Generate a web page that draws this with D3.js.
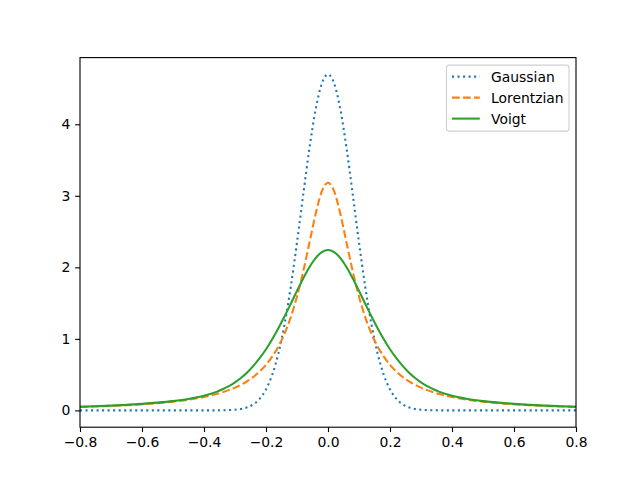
<!DOCTYPE html>
<html>
<head>
<meta charset="utf-8">
<script src="https://cdn.jsdelivr.net/npm/d3@7"></script>
<style>
  body { margin: 0; background: #fff; }
  text { font-family: "DejaVu Sans", sans-serif; }
</style>
</head>
<body>
<div id="chart"></div>
<script>
// x positions (right half, mirrored below) and values
const xHalf = [0, 0.02, 0.04, 0.06, 0.08, 0.10, 0.12, 0.14, 0.16, 0.18, 0.20,
               0.22, 0.24, 0.26, 0.28, 0.30, 0.32, 0.34, 0.36, 0.38, 0.40,
               0.45, 0.50, 0.55, 0.60, 0.65, 0.70, 0.75, 0.80];
const gaussHalf = [4.6972, 4.5688, 4.2041, 3.6599, 3.0142, 2.3486, 1.7312, 1.2073, 0.7965, 0.4972, 0.2936,
                   0.1640, 0.0867, 0.0433, 0.0205, 0.0092, 0.0039, 0.0016, 0.0006, 0.0002, 0.0001,
                   0, 0, 0, 0, 0, 0, 0, 0];
const lorentzHalf = [3.1831, 3.0607, 2.7441, 2.3405, 1.9409, 1.5915, 1.3046, 1.0754, 0.8941, 0.7507, 0.6366,
                     0.5451, 0.4709, 0.4102, 0.3601, 0.3183, 0.2832, 0.2534, 0.2280, 0.2062, 0.1872,
                     0.1498, 0.1224, 0.1019, 0.0860, 0.0736, 0.0637, 0.0556, 0.0490];
const voigtHalf = [2.2430, 2.2123, 2.1291, 2.0022, 1.8449, 1.6709, 1.4915, 1.3154, 1.1484, 0.9944, 0.8555,
                   0.7327, 0.6259, 0.5345, 0.4572, 0.3926, 0.3391, 0.2950, 0.2588, 0.2291, 0.2046,
                   0.1600, 0.1300, 0.1085, 0.0915, 0.0776, 0.0666, 0.0579, 0.0507];

const seriesNames = ["Gaussian", "Lorentzian", "Voigt"];
const seriesColors = ["#1f77b4", "#ff7f0e", "#2ca02c"];
const seriesDash = ["2.08,3.44", "7.71,3.33", null];
const xTicks = [-0.8, -0.6, -0.4, -0.2, 0.0, 0.2, 0.4, 0.6, 0.8];
const yTicks = [0, 1, 2, 3, 4];

function mirror(half, neg) {
  let left = half.slice(1).reverse().map(v => neg ? -v : v);
  return left.concat(half);
}

const xs = mirror(xHalf, true);
const series = [gaussHalf, lorentzHalf, voigtHalf].map(h => {
  let ys = mirror(h, false);
  return xs.map((x, i) => [x, ys[i]]);
});

const W = 640, H = 480;
const margin = {top: 57.6, right: 64, bottom: 52.8, left: 80};
const width = W - margin.left - margin.right;
const height = H - margin.top - margin.bottom;

let allY = series.flat().map(d => d[1]);
let yMin = d3.min(allY), yMax = d3.max(allY);
let pad = (yMax - yMin) * 0.05;

let xScale = d3.scaleLinear().domain([-0.8, 0.8]).range([0, width]);
let yScale = d3.scaleLinear().domain([yMin - pad, yMax + pad]).range([height, 0]);

let svg = d3.select("#chart").append("svg")
    .attr("width", W).attr("height", H)
    .append("g")
    .attr("transform", "translate(" + margin.left + "," + margin.top + ")");

let fmt = v => (v < 0 ? "\u2212" : "") + Math.abs(v).toFixed(1);

let xAxis = svg.append("g")
    .attr("transform", "translate(0," + height + ")")
    .call(d3.axisBottom(xScale).tickValues(xTicks).tickFormat(fmt).tickSizeOuter(0).tickSize(4.86).tickPadding(4.86));
let yAxis = svg.append("g")
    .call(d3.axisLeft(yScale).tickValues(yTicks).tickFormat(d3.format("d")).tickSizeOuter(0).tickSize(4.86).tickPadding(4.86));

[xAxis, yAxis].forEach(a => {
  a.select(".domain").remove();
  a.selectAll("line").attr("stroke", "#000").attr("stroke-width", 1.11);
  a.selectAll("text").attr("font-size", "13.9px").attr("fill", "#000")
      .attr("font-family", "DejaVu Sans, sans-serif");
});

svg.append("clipPath").attr("id", "clip")
    .append("rect").attr("width", width).attr("height", height);

let lineGen = d3.line()
    .x(d => xScale(d[0]))
    .y(d => yScale(d[1]))
    .curve(d3.curveMonotoneX);

series.forEach((pts, i) => {
  svg.append("path")
      .attr("d", lineGen(pts))
      .attr("fill", "none")
      .attr("clip-path", "url(#clip)")
      .attr("stroke", seriesColors[i])
      .attr("stroke-width", 2.08)
      .attr("stroke-dasharray", seriesDash[i]);
});

// frame
svg.append("rect")
    .attr("width", width).attr("height", height)
    .attr("fill", "none").attr("stroke", "#000").attr("stroke-width", 1.11);

// legend, upper right
let lg = svg.append("g").attr("transform", "translate(" + (width - 129.5) + ",7.5)");
lg.append("rect")
    .attr("width", 122.5).attr("height", 66).attr("rx", 2.8)
    .attr("fill", "#fff").attr("fill-opacity", 0.8)
    .attr("stroke", "#d0d0d0").attr("stroke-width", 1.11);
seriesNames.forEach((name, i) => {
  let yy = 11.5 + i * 21;
  lg.append("line")
      .attr("x1", 5.5).attr("x2", 33.3).attr("y1", yy).attr("y2", yy)
      .attr("stroke", seriesColors[i]).attr("stroke-width", 2.08)
      .attr("stroke-dasharray", seriesDash[i]);
  lg.append("text")
      .attr("x", 44.5).attr("y", yy).attr("dy", "0.36em")
      .attr("font-size", "13.9px").attr("fill", "#000")
      .text(name);
});
</script>
</body>
</html>
